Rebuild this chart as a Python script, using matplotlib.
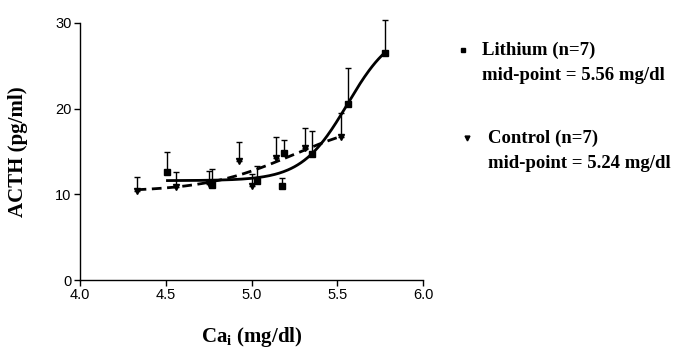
import numpy as np
import matplotlib
matplotlib.use("Agg")
import matplotlib.pyplot as plt

# Lithium group (squares): Ca_i, mean ACTH, upper SEM
li_x = [4.51, 4.77, 5.03, 5.18, 5.19, 5.35, 5.56, 5.78]
li_y = [12.6, 11.05, 11.5, 10.95, 14.8, 14.75, 20.6, 26.45]
li_err = [2.4, 1.95, 1.8, 0.95, 1.6, 2.65, 4.1, 3.95]

# Control group (triangles)
ct_x = [4.33, 4.56, 4.75, 4.93, 5.00, 5.14, 5.31, 5.52]
ct_y = [10.4, 10.8, 11.2, 13.9, 11.0, 14.25, 15.4, 16.7]
ct_err = [1.6, 1.85, 1.5, 2.25, 1.35, 2.45, 2.4, 2.8]

# sigmoid fit parameters (bottom, top, mid-point, slope)
li_fit = (11.6, 29.5, 5.56, 7.45)
ct_fit = (10.3, 18.9, 5.24, 3.92)


def sigmoid(x, p):
    b, t, m, k = p
    return b + (t - b) / (1 + np.exp(-k * (x - m)))


serif = "Liberation Serif"
sans = "Liberation Sans"

fig = plt.figure(figsize=(6.81, 3.48), dpi=100)
ax = fig.add_axes([80 / 681, 68 / 348, 343 / 681, 257 / 348])

xs = np.linspace(min(li_x), max(li_x), 200)
ax.plot(xs, sigmoid(xs, li_fit), color="black", lw=2)
xs = np.linspace(min(ct_x), max(ct_x), 200)
ax.plot(xs, sigmoid(xs, ct_fit), color="black", lw=2, ls=(0, (3.5, 2)))

for x, y, e, m in [(li_x, li_y, li_err, "s"), (ct_x, ct_y, ct_err, "v")]:
    cont = ax.errorbar(x, y, yerr=[np.zeros(len(e)), e], fmt=m, ms=5,
                       color="black", ecolor="black", elinewidth=1,
                       capsize=2.5, capthick=1)
    for art in list(cont.lines[1]) + list(cont.lines[2]):
        art.set_clip_on(False)

ax.set_xlim(4.0, 6.0)
ax.set_ylim(0, 30)
ax.set_xticks([4.0, 4.5, 5.0, 5.5, 6.0])
ax.set_xticklabels(["4.0", "4.5", "5.0", "5.5", "6.0"])
ax.set_yticks([0, 10, 20, 30])
for s in ["top", "right"]:
    ax.spines[s].set_visible(False)
ax.spines["left"].set_linewidth(1)
ax.spines["bottom"].set_linewidth(1)
ax.tick_params(direction="out", length=4, width=1, labelsize=10.5, pad=2)
for lab in ax.get_xticklabels() + ax.get_yticklabels():
    lab.set_fontfamily(sans)

ax.set_xlabel("Ca$_\\mathregular{i}$ (mg/dl)", fontfamily=serif, fontweight="bold",
              fontsize=15)
ax.set_ylabel("ACTH (pg/ml)", fontfamily=serif, fontweight="bold", fontsize=15)
ax.xaxis.set_label_coords(0.5, -0.175)
ax.yaxis.set_label_coords(-0.152, 0.5)

# legend block drawn as text in figure pixels
def px(x, y):
    return x / 681, 1 - y / 348

fig.lines.append(plt.Line2D(*zip(px(463, 50)), marker="s", ms=3.5, color="black",
                            transform=fig.transFigure))
fig.lines.append(plt.Line2D(*zip(px(467, 138)), marker="v", ms=3.5, color="black",
                            transform=fig.transFigure))
tk = dict(fontfamily=serif, fontweight="bold", fontsize=13.5, va="center", ha="left")
fig.text(*px(482, 50), "Lithium (n=7)", **tk)
fig.text(*px(482, 75), "mid-point = 5.56 mg/dl", **tk)
fig.text(*px(488, 138), "Control (n=7)", **tk)
fig.text(*px(488, 163), "mid-point = 5.24 mg/dl", **tk)

fig.savefig("out.png", dpi=100)
